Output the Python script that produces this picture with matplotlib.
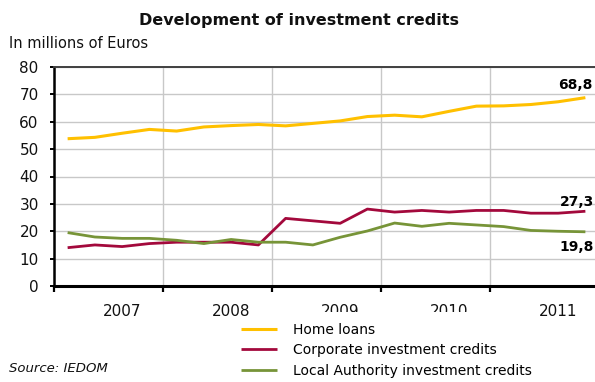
import matplotlib
matplotlib.use("Agg")
import matplotlib.pyplot as plt
from matplotlib.patches import Rectangle
import numpy as np

plt.rcParams['font.family'] = ['DejaVu Sans']

years = ["2007", "2008", "2009", "2010", "2011"]
quarters_per_year = 4
home_loans = [53.8, 54.3, 55.8, 57.2, 56.6, 58.1, 58.6, 59.0, 58.5, 59.4,
              60.3, 61.9, 62.4, 61.8, 63.8, 65.7, 65.8, 66.3, 67.3, 68.8]
corporate = [14.0, 15.0, 14.4, 15.5, 16.0, 16.0, 16.0, 15.0, 24.7, 23.8,
             22.9, 28.1, 27.0, 27.6, 27.0, 27.6, 27.6, 26.6, 26.6, 27.3]
local_auth = [19.5, 17.9, 17.4, 17.4, 16.7, 15.5, 17.0, 16.0, 16.0, 15.0,
              17.8, 20.1, 23.0, 21.8, 22.9, 22.3, 21.7, 20.3, 20.0, 19.8]
series_names = ["Home loans", "Corporate investment credits",
                "Local Authority investment credits"]
end_labels = ["68,8", "27,3", "19,8"]

W, H = 595, 382
fig = plt.figure(figsize=(W / 100, H / 100), dpi=100)
ax = fig.add_axes([54 / W, 1 - 286 / H, (599 - 54) / W, (286 - 67) / H])

n = len(home_loans)
x = np.arange(n) + 0.5
colors = ["#FFC000", "#A3093C", "#779438"]
widths = [2.2, 2.0, 2.0]
lines = []
for vals, c, lw, name in zip([home_loans, corporate, local_auth], colors, widths, series_names):
    ln, = ax.plot(x, vals, color=c, lw=lw, label=name, solid_capstyle='butt', zorder=3)
    lines.append(ln)

ax.set_xlim(0, n)
ax.set_ylim(0, 80)
ax.set_yticks(np.arange(0, 81, 10))
ax.set_xticks(np.arange(0, n, quarters_per_year))
ax.set_xticklabels([])
ax.set_xticks(np.arange(len(years)) * quarters_per_year + 2.5, minor=True)
ax.set_xticklabels(years, minor=True)
ax.tick_params(axis='x', which='minor', length=0, pad=13, labelsize=11, labelcolor='#111111')
ax.tick_params(axis='x', which='major', length=4.5, width=1.6, direction='out', color='black')
ax.tick_params(axis='y', length=3, width=1.4, pad=8, labelsize=11, labelcolor='#111111')

ax.grid(True, which='major', color='#C8C8C8', lw=1.0)
ax.set_axisbelow(True)
ax.spines['left'].set_linewidth(1.8)
ax.spines['left'].set_color('black')
ax.spines['bottom'].set_linewidth(2.2)
ax.spines['bottom'].set_color('black')
ax.spines['top'].set_linewidth(1.4)
ax.spines['top'].set_color('#404040')
ax.spines['right'].set_visible(False)

# end-of-series data labels
last = n - 1 + 0.5
ax.annotate(end_labels[0], (last, home_loans[-1]), xytext=(-7, 9), textcoords='offset points',
            ha='center', va='center', fontsize=10, fontweight='bold', annotation_clip=False)
ax.annotate(end_labels[1], (last, corporate[-1]), xytext=(6.3, 6.5), textcoords='offset points',
            ha='right', va='center', fontsize=10, fontweight='bold', annotation_clip=False)
ax.annotate(end_labels[2], (last, local_auth[-1]), xytext=(6.0, -11), textcoords='offset points',
            ha='right', va='center', fontsize=10, fontweight='bold', annotation_clip=False)

fig.text(0.503, 1 - 21 / H, "Development of investment credits", ha='center', va='center',
         fontsize=11.5, fontweight='bold', color='#111111')
fig.text(9 / W, 1 - 44 / H, "In millions of Euros", ha='left', va='center', fontsize=10.5,
         color='#111111')
fig.text(9 / W, 1 - 368 / H, "Source: IEDOM", ha='left', va='center', fontsize=9.5,
         style='italic', color='#111111')

# white legend box partially covering the year labels
fig.patches.append(Rectangle((255 / W, 0), 275 / W, (382 - 312) / H, transform=fig.transFigure,
                             facecolor='white', edgecolor='none', zorder=1))

fig.legend(handles=lines, loc='upper left', bbox_to_anchor=(241 / W, 1 - 323 / H),
           frameon=False, fontsize=10, handlelength=2.6, handletextpad=1.15,
           labelspacing=0.45, borderpad=0, borderaxespad=0)

fig.savefig("out.png", dpi=100)
